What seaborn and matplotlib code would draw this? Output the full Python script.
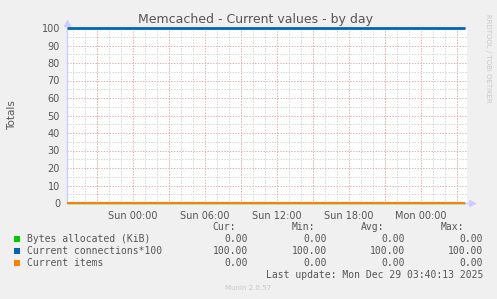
import matplotlib
matplotlib.use("Agg")
import matplotlib.pyplot as plt
import matplotlib.dates as mdates
from matplotlib.ticker import MultipleLocator
import seaborn as sns
import pandas as pd

# ---- data ----
series_names = ["Bytes allocated (KiB)", "Current connections*100", "Current items"]
series_colors = ["#00cc00", "#0066b3", "#ff8000"]
times = ["2025-12-27 18:30", "2025-12-29 03:40"]
bytes_vals = [0.0, 0.0]
conn_vals = [100.0, 100.0]
items_vals = [0.0, 0.0]
cur_vals = [0.00, 100.00, 0.00]
min_vals = [0.00, 100.00, 0.00]
avg_vals = [0.00, 100.00, 0.00]
max_vals = [0.00, 100.00, 0.00]
x_start = "2025-12-27 18:30"
x_end = "2025-12-29 03:50"
title = "Memcached - Current values - by day"
ylabel = "Totals"
last_update = "Last update: Mon Dec 29 03:40:13 2025"

rows = []
for name, vals in zip(series_names, [bytes_vals, conn_vals, items_vals]):
    for t, v in zip(times, vals):
        rows.append({"time": pd.Timestamp(t), "value": v, "series": name})
df = pd.DataFrame(rows)

sns.set_style("white")
plt.rcParams["font.family"] = ["DejaVu Sans"]

W, H = 497, 299
fig = plt.figure(figsize=(W / 100, H / 100), dpi=100, facecolor="#f0f0f0")
L, R, T, B = 67, 467, 28, 203
ax = fig.add_axes([L / W, 1 - B / H, (R - L) / W, (B - T) / H])
ax.set_facecolor("white")

sns.lineplot(data=df, x="time", y="value", hue="series", hue_order=series_names,
             palette=dict(zip(series_names, series_colors)), legend=False, ax=ax)
for ln, lw, z in zip(ax.lines, [1.0, 2.0, 1.5], [5, 6, 7]):
    ln.set_linewidth(lw)
    ln.set_zorder(z)
    ln.set_solid_capstyle("butt")
    ln.set_clip_on(False)
    ln.set_snap(True)

ax.set_xlim(pd.Timestamp(x_start), pd.Timestamp(x_end))
ax.set_ylim(0, 100)
ax.set_xlabel("")
ax.set_ylabel("")

ax.xaxis.set_major_locator(mdates.HourLocator(byhour=[0, 6, 12, 18]))
ax.xaxis.set_major_formatter(mdates.DateFormatter("%a %H:%M"))
ax.xaxis.set_minor_locator(mdates.HourLocator())
ax.yaxis.set_major_locator(MultipleLocator(10))
ax.yaxis.set_minor_locator(MultipleLocator(5))

dot = (0, (1.4, 1.4))
gray = "#d6d6d6"
red = "#e8b0b0"
ax.grid(which="minor", color=gray, linestyle=dot, linewidth=0.72, zorder=1)
for h in pd.date_range("2025-12-27 21:00", x_end, freq="3h"):
    ax.axvline(h, color=red, linestyle=dot, linewidth=0.72, zorder=2)
for yv in range(10, 101, 10):
    ax.axhline(yv, color=red, linestyle=dot, linewidth=0.72, zorder=2)

ax.tick_params(axis="both", which="both", direction="out", length=2, width=0.6,
               color="#c8a8a8", labelsize=7, labelcolor="#555555", pad=3)
ax.tick_params(axis="x", which="major", pad=4)

for s in ["top", "right"]:
    ax.spines[s].set_visible(False)
ax.spines["left"].set_color("#ccccff")
ax.spines["bottom"].set_color("#ccccff")
ax.spines["left"].set_linewidth(1)
ax.spines["bottom"].set_linewidth(1)

# axis arrows
ax.plot([0], [1.03], marker="^", color="#ccccff", markersize=4, transform=ax.transAxes, clip_on=False)
ax.plot([1.012], [0], marker=">", color="#ccccff", markersize=4, transform=ax.transAxes, clip_on=False)

fig.text(255 / W, 1 - 19 / H, title, ha="center", va="center", fontsize=9, color="#555555")
fig.text(12 / W, 1 - 115 / H, ylabel, ha="center", va="center", rotation=90, fontsize=7.5, color="#555555")
fig.text(488 / W, 1 - 58 / H, "RRDTOOL / TOBI OETIKER", ha="center", va="center", rotation=270,
         fontsize=5, color="#c8c8c8")

mono = "DejaVu Sans Mono"
fs = 7
fig.text(236 / W, 1 - 227 / H, "Cur:", ha="right", va="center", family=mono, fontsize=fs, color="#555555")
fig.text(315 / W, 1 - 227 / H, "Min:", ha="right", va="center", family=mono, fontsize=fs, color="#555555")
fig.text(384 / W, 1 - 227 / H, "Avg:", ha="right", va="center", family=mono, fontsize=fs, color="#555555")
fig.text(464 / W, 1 - 227 / H, "Max:", ha="right", va="center", family=mono, fontsize=fs, color="#555555")
row_y = [239, 251, 263]
for i, name in enumerate(series_names):
    y = 1 - row_y[i] / H
    fig.patches.append(plt.Rectangle((14 / W, y - 3 / H), 6 / W, 6 / H, transform=fig.transFigure,
                                     facecolor=series_colors[i], edgecolor="none"))
    fig.text(27 / W, y, name, ha="left", va="center", family=mono, fontsize=fs, color="#555555")
    for xr, vals in zip([248, 327, 405, 483], [cur_vals, min_vals, avg_vals, max_vals]):
        fig.text(xr / W, y, f"{vals[i]:.2f}", ha="right", va="center", family=mono, fontsize=fs, color="#555555")
fig.text(483 / W, 1 - 275 / H, last_update, ha="right", va="center", family=mono, fontsize=fs, color="#555555")
fig.text(248 / W, 1 - 288 / H, "Munin 2.0.57", ha="center", va="center", fontsize=5, color="#c8c8c8")

fig.savefig("out.png", dpi=100, facecolor=fig.get_facecolor())
